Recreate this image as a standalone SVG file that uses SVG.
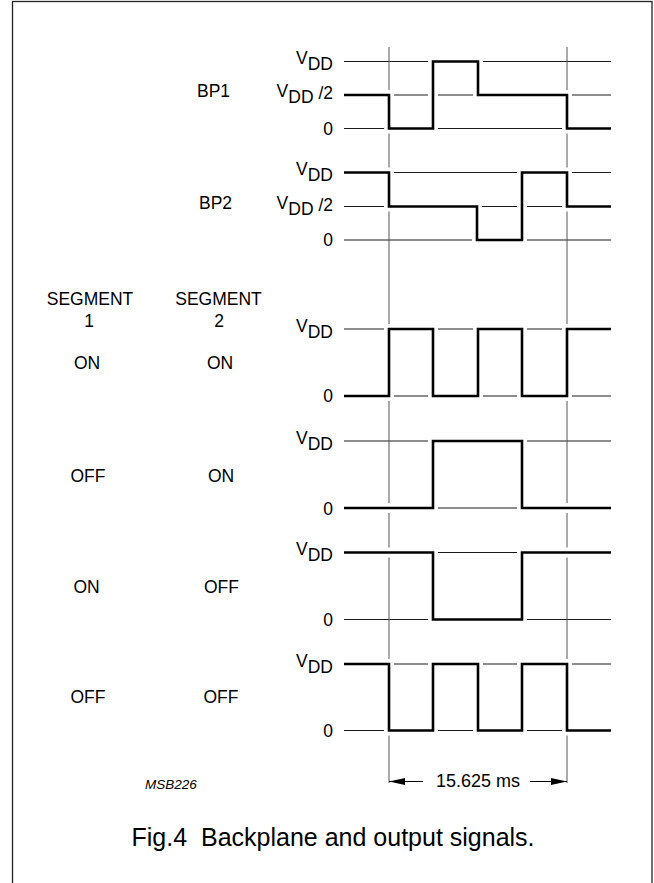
<svg xmlns="http://www.w3.org/2000/svg" width="654" height="883" viewBox="0 0 654 883">
<style>
.grid{stroke:#1a1a1a;stroke-width:1;fill:none}
.guide{stroke:#555;stroke-width:1;fill:none}
.halo{stroke:#fff;stroke-width:10;fill:none;stroke-linejoin:miter;stroke-linecap:butt}
.sig{stroke:#000;stroke-width:2.6;fill:none;stroke-linejoin:miter;stroke-linecap:butt}
text{font-family:"Liberation Sans",Arial,Helvetica,sans-serif;fill:#000}
.lbl{font-size:17.5px}
.mid{text-anchor:middle}
.end{text-anchor:end}
.dim{stroke:#000;stroke-width:1;fill:none}
</style>
<defs>
<marker id="ah" markerUnits="userSpaceOnUse" markerWidth="17" markerHeight="8" refX="16" refY="3.5" orient="auto">
<path d="M0,0 L16,3.5 L0,7 z" fill="#000"/>
</marker>
</defs>
<rect x="12.5" y="1.5" width="639.5" height="900" fill="#fff" stroke="#222" stroke-width="1.3"/>

<g id="gridlines">
<path class="grid" d="M344,61.5H611M344,95H611M344,128.5H611M344,172.5H611M344,206.5H611M344,240H611M344,329H611M344,396H611M344,441H611M344,508H611M344,552.5H611M344,619.5H611M344,664H611M344,730.5H611"/>
<path class="guide" d="M389,47V783M567,47V783"/>
</g>

<g id="halos">
<path class="halo" d="M344,95H389V128.5H433V61.5H478V95H567V128.5H611"/>
<path class="halo" d="M344,172.5H389V206.5H477V240H522V172.5H567V206.5H611"/>
<path class="halo" d="M344,396H389V329H433V396H478V329H522V396H567V329H611"/>
<path class="halo" d="M344,508H433V441H522V508H611"/>
<path class="halo" d="M344,552.5H433V619.5H522V552.5H611"/>
<path class="halo" d="M344,664H389V730.5H433V664H478V730.5H522V664H567V730.5H611"/>
</g>

<g id="bp1">
<path class="sig" d="M344,95H389V128.5H433V61.5H478V95H567V128.5H611"/>
<text class="lbl mid" x="213.5" y="97">BP1</text>
<text class="lbl end" x="333" y="64">V<tspan dy="6">DD</tspan></text>
<text class="lbl end" x="333" y="97">V<tspan dy="6">DD</tspan><tspan dy="-4"> /2</tspan></text>
<text class="lbl end" x="333" y="134.5">0</text>
</g>

<g id="bp2">
<path class="sig" d="M344,172.5H389V206.5H477V240H522V172.5H567V206.5H611"/>
<text class="lbl mid" x="215.5" y="208.5">BP2</text>
<text class="lbl end" x="333" y="175">V<tspan dy="6">DD</tspan></text>
<text class="lbl end" x="333" y="208.5">V<tspan dy="6">DD</tspan><tspan dy="-4"> /2</tspan></text>
<text class="lbl end" x="333" y="246">0</text>
</g>

<g id="headers">
<text class="lbl mid" x="90" y="305">SEGMENT</text>
<text class="lbl mid" x="89" y="327">1</text>
<text class="lbl mid" x="218.5" y="305">SEGMENT</text>
<text class="lbl mid" x="219" y="327">2</text>
</g>

<g id="on-on">
<path class="sig" d="M344,396H389V329H433V396H478V329H522V396H567V329H611"/>
<text class="lbl mid" x="87" y="369">ON</text>
<text class="lbl mid" x="220" y="369">ON</text>
<text class="lbl end" x="333" y="331.5">V<tspan dy="6">DD</tspan></text>
<text class="lbl end" x="333" y="402">0</text>
</g>

<g id="off-on">
<path class="sig" d="M344,508H433V441H522V508H611"/>
<text class="lbl mid" x="88" y="481.5">OFF</text>
<text class="lbl mid" x="221" y="481.5">ON</text>
<text class="lbl end" x="333" y="443.5">V<tspan dy="6">DD</tspan></text>
<text class="lbl end" x="333" y="514.5">0</text>
</g>

<g id="on-off">
<path class="sig" d="M344,552.5H433V619.5H522V552.5H611"/>
<text class="lbl mid" x="86.5" y="593">ON</text>
<text class="lbl mid" x="221.5" y="593">OFF</text>
<text class="lbl end" x="333" y="555">V<tspan dy="6">DD</tspan></text>
<text class="lbl end" x="333" y="626">0</text>
</g>

<g id="off-off">
<path class="sig" d="M344,664H389V730.5H433V664H478V730.5H522V664H567V730.5H611"/>
<text class="lbl mid" x="88" y="703">OFF</text>
<text class="lbl mid" x="221" y="703">OFF</text>
<text class="lbl end" x="333" y="666.5">V<tspan dy="6">DD</tspan></text>
<text class="lbl end" x="333" y="737">0</text>
</g>

<g id="connectors">
<line class="dim" x1="423" y1="781.5" x2="389" y2="781.5" marker-end="url(#ah)"/>
<line class="dim" x1="530" y1="781.5" x2="567" y2="781.5" marker-end="url(#ah)"/>
<text x="478" y="787" text-anchor="middle" font-size="18">15.625 ms</text>
</g>

<g id="annotations">
<text x="145" y="789" font-size="13.5" font-style="italic">MSB226</text>
<text x="131.5" y="846" font-size="25">Fig.4&#160; Backplane and output signals.</text>
</g>
</svg>
